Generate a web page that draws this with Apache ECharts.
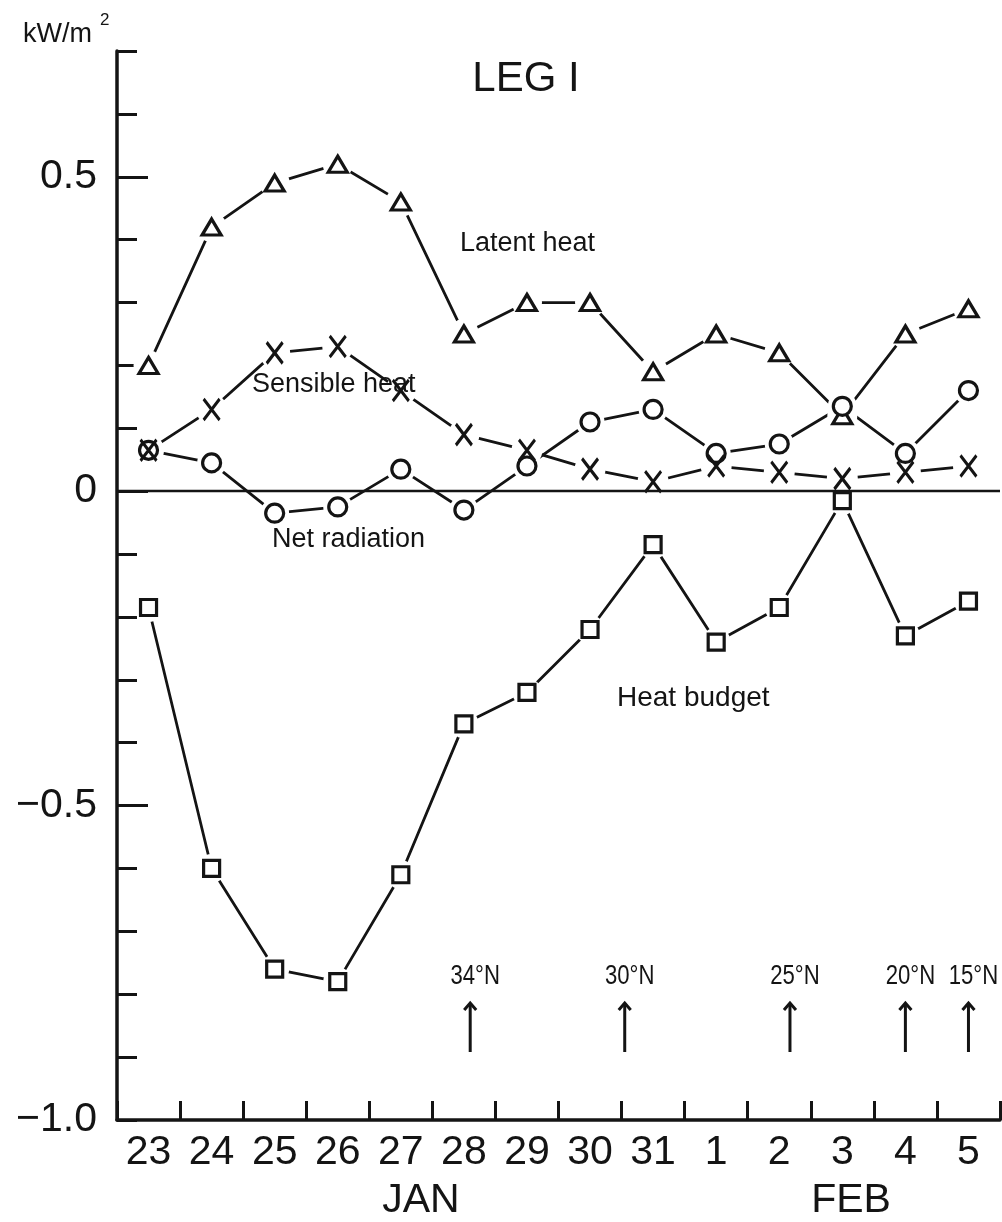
<!DOCTYPE html>
<html>
<head>
<meta charset="utf-8">
<script src="https://cdn.jsdelivr.net/npm/echarts@6/dist/echarts.min.js"></script>
<style>
  html, body { margin: 0; padding: 0; background: #fff; }
  #chart { width: 1002px; height: 1222px; }
</style>
</head>
<body>
<div id="chart"></div>
<script>
// Daily heat-flux components along Leg I (kW/m^2)
const days = ['23', '24', '25', '26', '27', '28', '29', '30', '31', '1', '2', '3', '4', '5'];
const latentHeat   = [0.20, 0.42, 0.49, 0.52, 0.46, 0.25, 0.30, 0.30, 0.19, 0.25, 0.22, 0.12, 0.25, 0.29];
const sensibleHeat = [0.065, 0.13, 0.22, 0.23, 0.16, 0.09, 0.065, 0.035, 0.015, 0.04, 0.03, 0.02, 0.03, 0.04];
const netRadiation = [0.065, 0.045, -0.035, -0.025, 0.035, -0.03, 0.04, 0.11, 0.13, 0.06, 0.075, 0.135, 0.06, 0.16];
const heatBudget   = [-0.185, -0.60, -0.76, -0.78, -0.61, -0.37, -0.32, -0.22, -0.085, -0.24, -0.185, -0.015, -0.23, -0.175];

// Labelled y values and the major (long) tick positions
const yLabelValues = [-1.0, -0.5, 0, 0.5];
const yMajorTicks = [-0.5, 0, 0.5];

// Ship position markers: latitude reached and position along the day axis (day index)
const shipLatitudes = ['34°N', '30°N', '25°N', '20°N', '15°N'];
const shipDayIndex  = [5.1, 7.55, 10.17, 12.0, 13.0];

const INK = '#141414';
const FONT = '"Liberation Sans", Arial, sans-serif';

const chart = echarts.init(document.getElementById('chart'), null, { renderer: 'canvas' });

// Line-only layer
function lineSeries(name, data) {
  return {
    name, type: 'line', data, z: 2, silent: true,
    symbol: 'none',
    lineStyle: { color: INK, width: 2.8 },
    animation: false
  };
}
// White halo under each marker so connecting lines stop short of it
function maskSeries(data, size) {
  return {
    type: 'scatter', data, z: 3, silent: true,
    symbol: 'circle', symbolSize: size,
    itemStyle: { color: '#fff', borderWidth: 0, opacity: 1 },
    animation: false
  };
}
// Marker layer
function markerSeries(name, data, symbol, size, fill) {
  return {
    name, type: 'scatter', data, z: 6, silent: true,
    symbol, symbolSize: size,
    itemStyle: { color: fill, borderColor: INK, borderWidth: 3.2, opacity: 1 },
    animation: false
  };
}

const crossPath = 'path://M0,0L14,19M14,0L0,19';

const option = {
  animation: false,
  backgroundColor: '#fff',
  grid: { left: 117, right: 2, top: 51, bottom: 102, containLabel: false },
  xAxis: [
    {
      type: 'category',
      data: days,
      position: 'bottom',
      boundaryGap: true,
      axisLine: { show: true, onZero: false, lineStyle: { color: INK, width: 3.5 } },
      axisTick: { show: true, inside: true, length: 19, interval: 0, lineStyle: { color: INK, width: 3 } },
      axisLabel: { interval: 0, color: INK, fontSize: 41, fontFamily: FONT, margin: 12 },
      splitLine: { show: false }
    },
    {
      type: 'value', min: -0.5, max: 13.5, show: false, position: 'bottom',
      axisLine: { onZero: false }
    }
  ],
  yAxis: [
    {
      type: 'value', min: -1, max: 0.7, interval: 0.1, position: 'left',
      axisLine: { show: true, onZero: false, lineStyle: { color: INK, width: 3.5 } },
      axisTick: { show: true, inside: true, length: 20, lineStyle: { color: INK, width: 3 } },
      axisLabel: {
        color: INK, fontSize: 41, fontFamily: FONT, margin: 20,
        formatter: function (v) {
          const r = Math.round(v * 10) / 10;
          if (!yLabelValues.some(t => Math.abs(t - r) < 1e-9)) return '';
          if (r === 0) return '0';
          return (r < 0 ? '\u2212' : '') + Math.abs(r).toFixed(1);
        }
      },
      splitLine: { show: false }
    },
    {
      type: 'value', min: -1, max: 0.7, interval: 0.5, position: 'left', offset: 0,
      axisLine: { show: false, onZero: false },
      axisTick: { show: true, inside: true, length: 31, customValues: yMajorTicks, lineStyle: { color: INK, width: 3 } },
      axisLabel: { show: false },
      splitLine: { show: false }
    }
  ],
  series: [
    lineSeries('Latent heat', latentHeat),
    lineSeries('Sensible heat', sensibleHeat),
    lineSeries('Net radiation', netRadiation),
    lineSeries('Heat budget', heatBudget),

    maskSeries(latentHeat, 30),
    maskSeries(sensibleHeat, 31),
    maskSeries(netRadiation, 29),
    maskSeries(heatBudget, 29),

    // zero reference line
    {
      type: 'line', data: [], z: 4, silent: true,
      markLine: {
        z: 4, silent: true, symbol: 'none', animation: false,
        label: { show: false },
        lineStyle: { color: INK, width: 2.4, type: 'solid' },
        data: [{ yAxis: 0 }]
      }
    },

    markerSeries('Latent heat', latentHeat, 'triangle', [19, 16], '#fff'),
    markerSeries('Heat budget', heatBudget, 'rect', 16, '#fff'),
    markerSeries('Net radiation', netRadiation, 'circle', 18, '#fff'),
    markerSeries('Sensible heat', sensibleHeat, crossPath, [16, 21], 'none'),

    // latitude arrows along the cruise track
    {
      type: 'custom', xAxisIndex: 1, yAxisIndex: 0, z: 6, silent: true,
      data: shipDayIndex.map(d => [d, -1]),
      renderItem: function (params, api) {
        const p = api.coord([api.value(0), api.value(1)]);
        const x = p[0], base = p[1];
        const tail = base - 68, tip = base - 117;
        return {
          type: 'group',
          children: [
            { type: 'line', shape: { x1: x, y1: tail, x2: x, y2: tip },
              style: { stroke: INK, lineWidth: 3 } },
            { type: 'polyline', shape: { points: [[x - 6, tip + 7], [x, tip], [x + 6, tip + 7]] },
              style: { stroke: INK, lineWidth: 3, fill: null } },
            { type: 'text', x: x + 5, y: base - 143, scaleX: 0.82,
              style: { text: shipLatitudes[params.dataIndex], fill: INK,
                       font: '27px ' + FONT, align: 'center', verticalAlign: 'middle' } }
          ]
        };
      }
    }
  ],
  graphic: [
    { type: 'text', left: 23, top: 21, z: 10,
      style: { text: 'kW/m', fill: INK, font: '27px ' + FONT } },
    { type: 'text', left: 100, top: 12, z: 10,
      style: { text: '2', fill: INK, font: '17px ' + FONT } },
    { type: 'text', x: 526, y: 79, z: 10,
      style: { text: 'LEG I', fill: INK, font: '42px ' + FONT, align: 'center', verticalAlign: 'middle' } },
    { type: 'text', x: 460, y: 244, z: 10,
      style: { text: 'Latent heat', fill: INK, font: '27px ' + FONT, verticalAlign: 'middle' } },
    { type: 'text', x: 252, y: 385, z: 10,
      style: { text: 'Sensible heat', fill: INK, font: '27px ' + FONT, verticalAlign: 'middle' } },
    { type: 'text', x: 272, y: 540, z: 10,
      style: { text: 'Net radiation', fill: INK, font: '27px ' + FONT, verticalAlign: 'middle' } },
    { type: 'text', x: 617, y: 698, z: 10,
      style: { text: 'Heat budget', fill: INK, font: '28px ' + FONT, verticalAlign: 'middle' } },
    { type: 'text', x: 421, y: 1201, z: 10,
      style: { text: 'JAN', fill: INK, font: '41px ' + FONT, align: 'center', verticalAlign: 'middle' } },
    { type: 'text', x: 851, y: 1201, z: 10,
      style: { text: 'FEB', fill: INK, font: '41px ' + FONT, align: 'center', verticalAlign: 'middle' } }
  ]
};

chart.setOption(option);
</script>
</body>
</html>
